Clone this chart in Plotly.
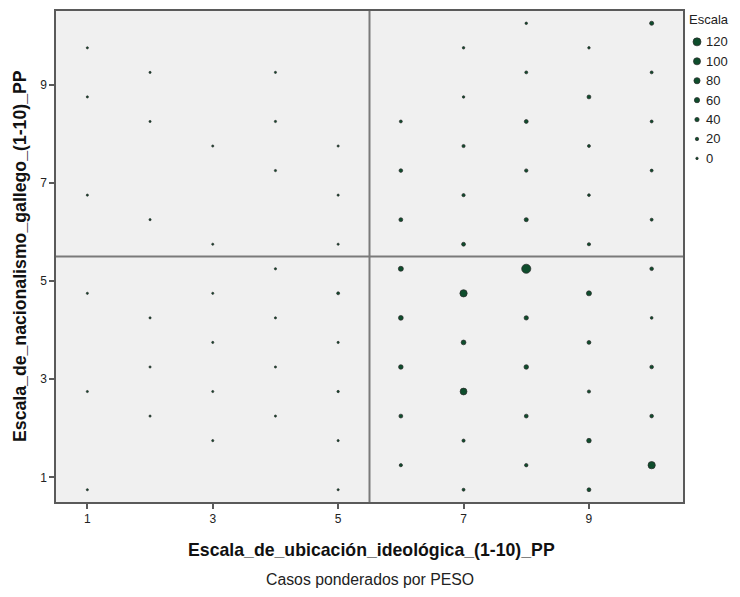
import plotly.graph_objects as go

# ---- data ----
x_vals = [
    1, 1, 1, 1, 1, 1,
    2, 2, 2, 2, 2, 2,
    3, 3, 3, 3, 3, 3,
    4, 4, 4, 4, 4, 4, 4,
    5, 5, 5, 5, 5, 5, 5, 5,
    6, 6, 6, 6, 6, 6, 6, 6,
    7, 7, 7, 7, 7, 7, 7, 7, 7, 7,
    8, 8, 8, 8, 8, 8, 8, 8, 8, 8,
    9, 9, 9, 9, 9, 9, 9, 9, 9, 9,
    10, 10, 10, 10, 10, 10, 10, 10, 10, 10,
]
y_vals = [
    9.75, 8.75, 6.75, 4.75, 2.75, 0.75,
    9.25, 8.25, 6.25, 4.25, 3.25, 2.25,
    7.75, 5.75, 4.75, 3.75, 2.75, 1.75,
    9.25, 8.25, 7.25, 5.25, 4.25, 3.25, 2.25,
    7.75, 6.75, 5.75, 4.75, 3.75, 2.75, 1.75, 0.75,
    8.25, 7.25, 6.25, 5.25, 4.25, 3.25, 2.25, 1.25,
    9.75, 8.75, 7.75, 6.75, 5.75, 4.75, 3.75, 2.75, 1.75, 0.75,
    10.25, 9.25, 8.25, 7.25, 6.25, 5.25, 4.25, 3.25, 2.25, 1.25,
    9.75, 8.75, 7.75, 6.75, 5.75, 4.75, 3.75, 2.75, 1.75, 0.75,
    10.25, 9.25, 8.25, 7.25, 6.25, 5.25, 4.25, 3.25, 2.25, 1.25,
]
peso = [
    8, 8, 8, 8, 8, 8,
    8, 8, 8, 8, 8, 8,
    8, 8, 8, 8, 8, 8,
    8, 10, 10, 10, 8, 8, 8,
    8, 8, 8, 25, 10, 12, 8, 8,
    25, 40, 45, 70, 65, 60, 45, 30,
    15, 15, 30, 30, 45, 120, 65, 110, 30, 25,
    15, 25, 45, 35, 50, 160, 55, 60, 45, 35,
    15, 45, 25, 20, 30, 70, 45, 30, 60, 45,
    50, 25, 25, 25, 25, 40, 20, 40, 40, 120,
]
legend_title = "Escala"
legend_values = [120, 100, 80, 60, 40, 20, 0]
x_ticks = [1, 3, 5, 7, 9]
y_ticks = [1, 3, 5, 7, 9]
ref_x = 5.5
ref_y = 5.5
x_title = "Escala_de_ubicación_ideológica_(1-10)_PP"
y_title = "Escala_de_nacionalismo_gallego_(1-10)_PP"
caption = "Casos ponderados por PESO"

# ---- styling ----
FONT = "Liberation Sans, Arial, sans-serif"
FILL = "#0e4d2c"
EDGE = "#2a2a2a"
EDGE_W = 0.7

W, H = 740, 597
L, R, T, B = 56, 683, 9, 502  # plot area in pixels


def diam(v):
    return 2.5 + v * 5.5 / 120.0


def px(xp):
    return (xp - L) / (R - L)


def py(yp):
    return (B - yp) / (B - T)


fig = go.Figure()
fig.add_trace(go.Scatter(
    x=x_vals, y=y_vals, mode="markers",
    marker=dict(size=[max(diam(v) - EDGE_W, 1) for v in peso], sizemode="diameter",
                color=FILL, opacity=1, line=dict(color=EDGE, width=EDGE_W)),
    showlegend=False, hoverinfo="x+y+text", text=[str(v) for v in peso],
))

shapes = [
    dict(type="line", xref="x", yref="paper", x0=ref_x, x1=ref_x, y0=0, y1=1,
         line=dict(color="#7a7a7a", width=2)),
    dict(type="line", xref="paper", yref="y", x0=0, x1=1, y0=ref_y, y1=ref_y,
         line=dict(color="#7a7a7a", width=2)),
]

annotations = [
    dict(text="<b>" + x_title + "</b>", xref="paper", yref="paper", x=px(371), y=py(550),
         showarrow=False, font=dict(family=FONT, size=17.7, color="#111"),
         xanchor="center", yanchor="middle"),
    dict(text="<b>" + y_title + "</b>", xref="paper", yref="paper", x=px(20), y=py(255),
         showarrow=False, textangle=-90, font=dict(family=FONT, size=17.7, color="#111"),
         xanchor="center", yanchor="middle"),
    dict(text=caption, xref="paper", yref="paper", x=px(370), y=py(580),
         showarrow=False, font=dict(family=FONT, size=15.8, color="#222"),
         xanchor="center", yanchor="middle"),
    dict(text=legend_title, xref="paper", yref="paper", x=px(687), y=py(18),
         showarrow=False, font=dict(family=FONT, size=13, color="#222"),
         xanchor="left", yanchor="middle"),
]

# legend built from legend_values using the same size mapping
for i, v in enumerate(legend_values):
    cy = 40 + i * 19.5
    r = diam(v) / 2.0
    shapes.append(dict(type="circle", xref="paper", yref="paper",
                       xsizemode="pixel", ysizemode="pixel",
                       xanchor=px(697), yanchor=py(cy),
                       x0=-r, x1=r, y0=-r, y1=r,
                       fillcolor=FILL, line=dict(color=EDGE, width=EDGE_W)))
    annotations.append(dict(text=str(v), xref="paper", yref="paper",
                            x=px(704), y=py(cy), showarrow=False,
                            font=dict(family=FONT, size=13, color="#222"),
                            xanchor="left", yanchor="middle"))

axis_common = dict(
    showgrid=False, zeroline=False, showline=True, mirror=True,
    linecolor="#5a5a5a", linewidth=1.5,
    ticks="outside", ticklen=5, tickwidth=1.5, tickcolor="#5a5a5a",
    tickfont=dict(family=FONT, size=12, color="#222"),
)

fig.update_layout(
    width=W, height=H,
    margin=dict(l=L, r=W - R, t=T, b=H - B),
    paper_bgcolor="white", plot_bgcolor="#f0f0f0",
    xaxis=dict(range=[0.5, 10.5], tickvals=x_ticks, **axis_common),
    yaxis=dict(range=[0.5, 10.5], tickvals=y_ticks, **axis_common),
    shapes=shapes, annotations=annotations,
    showlegend=False,
)

fig.write_html("out.html", config={"displayModeBar": False},
               post_script="document.body.style.margin='0';")
